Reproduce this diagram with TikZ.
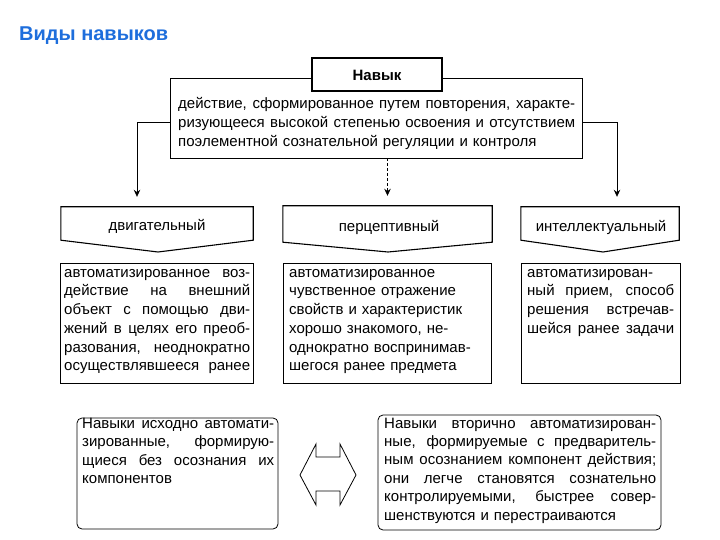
\documentclass[tikz,border=0pt]{standalone}
\usepackage{fontspec}
\setmainfont{Liberation Sans}
\usetikzlibrary{calc,arrows.meta}
\definecolor{titleblue}{RGB}{30,110,220}
\newcommand\jl[1]{\makebox[\hsize][s]{\spaceskip=0.278em plus 1fil\relax #1}}
\begin{document}
\begin{tikzpicture}[x=1pt,y=-1pt,
  frame/.style={draw, line width=0.8pt, inner sep=0pt},
  pent/.style={draw, line width=1.1pt, line join=miter},
  bodytext/.style={font={\fontsize{15}{18.7}\selectfont}, align=left, inner sep=0pt, anchor=north west},
  label/.style={font={\fontsize{15}{18}\selectfont}, inner sep=0pt},
  arr/.style={line width=0.8pt, -{Stealth[length=7pt,width=6.5pt]}, shorten >=10pt},
  rbox/.style={draw, line width=0.8pt, rounded corners=5pt, inner sep=0pt}
]
\useasboundingbox (0,0) rectangle (720,540);

% title
\node[anchor=base west, inner sep=0pt, text=titleblue, font={\fontsize{20}{24}\selectfont\bfseries}] (title) at (19,41) {Виды навыков};

% main definition box
\node[frame, minimum width=412pt, minimum height=80pt] (main) at (376,118) {};
\node[bodytext, text width=397pt, font={\fontsize{15}{19}\selectfont}] (maintext) at (178,95)
 {\strut\jl{действие, сформированное путем повторения, характе-}\\
  \jl{ризующееся высокой степенью освоения и отсутствием}\\
  поэлементной сознательной регуляции и контроля};
\node[draw, fill=white, line width=2pt, minimum width=130pt, minimum height=33pt, inner sep=0pt,
      font={\fontsize{15}{18}\selectfont\bfseries}] (navyk) at (377,75) {Навык};

% pentagon label nodes
\node[minimum width=192pt, minimum height=33pt, inner sep=0pt] (p1) at (157,223.5) {};
\node[minimum width=209pt, minimum height=36pt, inner sep=0pt] (p2) at (387.5,224) {};
\node[minimum width=158pt, minimum height=33pt, inner sep=0pt] (p3) at (600,223.5) {};
\draw[pent] (p1.north west) -- (p1.north east) -- (p1.south east) -- (158,252) -- (p1.south west) -- cycle;
\draw[pent] (p2.north west) -- (p2.north east) -- (p2.south east) -- (388,252) -- (p2.south west) -- cycle;
\draw[pent] (p3.north west) -- (p3.north east) -- (p3.south east) -- (603,252) -- (p3.south west) -- cycle;
\node[label] (l1) at (157,226) {двигательный};
\node[label] (l2) at (389,227) {перцептивный};
\node[label] (l3) at (601,227) {интеллектуальный};

% connectors
\draw[arr] ([yshift=-4pt]main.west) -| ([xshift=-20pt]p1.north);
\draw[arr, dash pattern=on 3pt off 2pt] (p2.north |- main.south) -- (p2.north);
\draw[arr] ([yshift=-4pt]main.east) -| ([xshift=17pt]p3.north);

% description boxes
\node[frame, minimum width=193pt, minimum height=120pt] (d1) at (156.5,323) {};
\node[frame, minimum width=208pt, minimum height=120pt] (d2) at (387,323) {};
\node[frame, minimum width=159pt, minimum height=120pt] (d3) at (600.5,323) {};
\node[bodytext, text width=186pt] (t1) at (64,264)
 {\strut\jl{автоматизированное воз-}\\
  \jl{действие на внешний}\\
  \jl{объект с помощью дви-}\\
  \jl{жений в целях его преоб-}\\
  \jl{разования, неоднократно}\\
  \jl{осуществлявшееся ранее}};
\node[bodytext, text width=196pt] (t2) at (289,264)
 {\strut автоматизированное\\
  чувственное отражение\\
  свойств и характеристик\\
  хорошо знакомого, не-\\
  однократно воспринимав-\\
  шегося ранее предмета};
\node[bodytext, text width=147pt] (t3) at (527,264)
 {\strut\jl{автоматизирован-}\\
  \jl{ный прием, способ}\\
  \jl{решения встречав-}\\
  \jl{шейся ранее задачи}};

% bottom boxes
\node[rbox, minimum width=201pt, minimum height=111pt] (b1) at (177.5,473.5) {};
\node[rbox, minimum width=283pt, minimum height=115pt] (b2) at (519.5,472.5) {};
\node[bodytext, text width=192pt, font={\fontsize{15}{18.5}\selectfont}] (bt1) at (82,415)
 {\strut\jl{Навыки исходно автомати-}\\
  \jl{зированные, формирую-}\\
  \jl{щиеся без осознания их}\\
  компонентов};
\node[bodytext, text width=272pt, font={\fontsize{15}{18.4}\selectfont}] (bt2) at (384,415)
 {\strut\jl{Навыки вторично автоматизирован-}\\
  \jl{ные, формируемые с предваритель-}\\
  \jl{ным осознанием компонент действия;}\\
  \jl{они легче становятся сознательно}\\
  \jl{контролируемыми, быстрее совер-}\\
  шенствуются и перестраиваются};

% double arrow
\draw[line width=0.8pt, line join=miter] (300,475) -- (316,444) -- (316,457) -- (340,457) -- (340,444) -- (356,475)
  -- (340,505) -- (340,491) -- (316,491) -- (316,505) -- cycle;
\end{tikzpicture}
\end{document}
